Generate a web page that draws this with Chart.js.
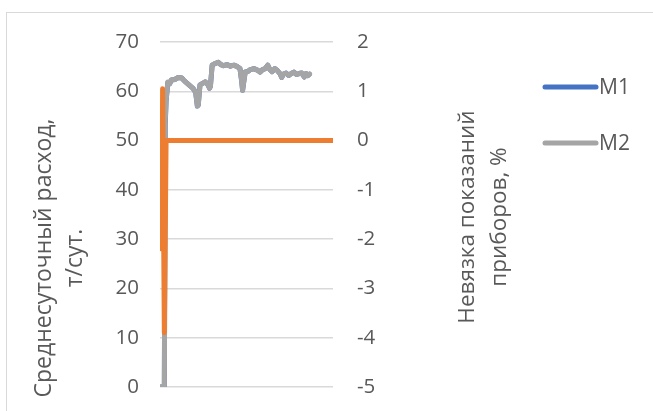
<!DOCTYPE html>
<html>
<head>
<meta charset="utf-8">
<script src="https://cdn.jsdelivr.net/npm/chart.js@4/dist/chart.umd.min.js"></script>
<style>
  html, body { margin: 0; padding: 0; background: #fff; }
  #wrap { width: 653px; height: 411px; position: relative; }
</style>
</head>
<body>
<div id="wrap"><canvas id="chart" width="653" height="411"></canvas></div>
<script>
// Day numbers of the recorded points and the daily mean flow, t/day
const m2Days = [1, 6, 7, 8, 10, 12, 14, 18, 22, 26, 28, 31, 35, 39, 42, 44, 45, 47, 50, 53, 56, 58, 59,
  61, 64, 68, 71, 74, 78, 82, 86, 90, 93, 95, 96, 97, 99, 102, 105, 109, 113, 116, 119, 122, 125, 127,
  130, 133, 136, 139, 141, 143, 146, 149, 152, 155, 158, 161, 164, 167, 169, 171, 173];
const m2Flow = [0, 0, 54, 58, 61.9, 61.5, 62.3, 62.4, 62.8, 62.7, 62.3, 61.8, 61.2, 60.6, 59.8, 57.0, 57.2,
  61.3, 61.6, 61.9, 61.4, 60.6, 61.0, 65.3, 65.6, 65.9, 65.4, 65.2, 65.4, 65.1, 65.3, 65.0, 64.6, 62.0,
  60.2, 61.5, 63.9, 64.0, 64.4, 64.6, 64.3, 63.9, 64.4, 64.6, 65.3, 64.5, 64.0, 64.6, 64.2, 63.6, 62.8,
  63.5, 63.7, 63.2, 63.6, 63.9, 63.4, 63.6, 63.7, 62.9, 63.6, 63.2, 63.5];

const m1Days = [1, 6, 7, 8, 10, 12, 14, 18, 22, 26, 28, 31, 35, 39, 42, 44, 45, 47, 50, 53, 56, 58, 59,
  61, 64, 68, 71, 74, 78, 82, 86, 90, 93, 95, 96, 97, 99, 102, 105, 109, 113, 116, 119, 122, 125, 127,
  130, 133, 136, 139, 141, 143, 146, 149, 152, 155, 158, 161, 164, 167, 169, 171, 173];
const m1Flow = [0, 0, 53, 58, 61.8, 61.5, 62.3, 62.4, 62.8, 62.7, 62.3, 61.8, 61.2, 60.6, 59.8, 57.0, 57.2,
  61.3, 61.6, 61.9, 61.4, 60.6, 61.0, 65.3, 65.6, 65.9, 65.4, 65.2, 65.4, 65.1, 65.3, 65.0, 64.6, 62.0,
  60.2, 61.5, 63.9, 64.0, 64.4, 64.6, 64.3, 63.9, 64.4, 64.6, 65.3, 64.5, 64.0, 64.6, 64.2, 63.6, 62.8,
  63.5, 63.7, 63.2, 63.6, 63.9, 63.4, 63.6, 63.7, 62.9, 63.6, 63.2, 63.5];

// Metering mismatch between the two meters, %
const misDays = [3, 4, 6, 8, 200];
const misValues = [-2.2, 1.05, -3.9, 0, 0];

const seriesNames = ['M1', 'M2'];
const flowTicks = [0, 10, 20, 30, 40, 50, 60, 70];
const misTicks = [-5, -4, -3, -2, -1, 0, 1, 2];
const leftTitle = ['Среднесуточный расход,', 'т/сут.'];
const rightTitle = ['Невязка показаний', 'приборов, %'];

const toPoints = (xs, ys) => xs.map((x, i) => ({ x: x, y: ys[i] }));

const FONT = 'Open Sans';
const TEXT = '#595959';

function verticalLines(ctx, lines, cx, cy, gap) {
  ctx.save();
  ctx.translate(cx, cy);
  ctx.rotate(-Math.PI / 2);
  ctx.textAlign = 'center';
  ctx.textBaseline = 'middle';
  lines.forEach((t, i) => ctx.fillText(t, 0, (i - (lines.length - 1) / 2) * gap));
  ctx.restore();
}

// fixed axis widths; tick-label overhang must not shrink the plot
function fixWidth(w) {
  return s => { s.width = w; s.paddingTop = 0; s.paddingBottom = 0; };
}

const decor = {
  id: 'decor',
  beforeDraw(chart) {
    const ctx = chart.ctx;
    ctx.save();
    ctx.fillStyle = '#fff';
    ctx.fillRect(0, 0, chart.width, chart.height);
    ctx.strokeStyle = '#d9d9d9';
    ctx.lineWidth = 1;
    ctx.strokeRect(6.5, 12.5, chart.width, chart.height);
    ctx.restore();
  },
  afterDraw(chart) {
    const ctx = chart.ctx;
    ctx.save();
    ctx.fillStyle = TEXT;
    ctx.font = '23px "' + FONT + '"';
    verticalLines(ctx, leftTitle, 60, 258, 31);
    ctx.font = '22.5px "' + FONT + '"';
    verticalLines(ctx, rightTitle, 484, 217, 32);

    // legend for the two meter series
    ctx.font = '21px "' + FONT + '"';
    ctx.textAlign = 'left';
    ctx.textBaseline = 'middle';
    ctx.lineCap = 'round';
    ctx.lineWidth = 5;
    const rows = [87, 143];
    chart.data.datasets.filter(d => seriesNames.includes(d.label)).forEach((d, i) => {
      const y = rows[i];
      ctx.strokeStyle = d.borderColor;
      ctx.beginPath();
      ctx.moveTo(545, y);
      ctx.lineTo(596, y);
      ctx.stroke();
      ctx.fillStyle = TEXT;
      ctx.fillText(d.label, 599, y + 1);
    });
    ctx.restore();
  }
};

new Chart(document.getElementById('chart'), {
  type: 'line',
  data: {
    datasets: [
      { label: seriesNames[0], data: toPoints(m1Days, m1Flow), borderColor: '#4472C4', yAxisID: 'y', order: 3 },
      { label: seriesNames[1], data: toPoints(m2Days, m2Flow), borderColor: '#A5A5A5', yAxisID: 'y', order: 2 },
      { label: 'Невязка', data: toPoints(misDays, misValues), borderColor: '#ED7D31', yAxisID: 'y1', order: 1 }
    ]
  },
  options: {
    responsive: false,
    animation: false,
    layout: { padding: { left: 0, right: 0, top: 42, bottom: 24 } },
    elements: {
      point: { radius: 0, hoverRadius: 0 },
      line: { tension: 0, borderWidth: 5, borderCapStyle: 'round', borderJoinStyle: 'round', fill: false }
    },
    plugins: { legend: { display: false }, tooltip: { enabled: false } },
    scales: {
      x: { type: 'linear', min: 1, max: 200, display: false },
      y: {
        position: 'left', min: 0, max: 70,
        afterBuildTicks: s => { s.ticks = flowTicks.map(v => ({ value: v })); },
        afterFit: fixWidth(160),
        grid: { color: '#d9d9d9', lineWidth: 1.5, drawTicks: false },
        border: { display: false },
        ticks: { padding: 21, color: TEXT, font: { family: FONT, size: 20.5 } }
      },
      y1: {
        position: 'right', min: -5, max: 2,
        afterBuildTicks: s => { s.ticks = misTicks.map(v => ({ value: v })); },
        afterFit: fixWidth(320),
        grid: { display: false, drawTicks: false },
        border: { display: false },
        ticks: { padding: 24, color: TEXT, font: { family: FONT, size: 20.5 } }
      }
    }
  },
  plugins: [decor]
});
</script>
</body>
</html>
